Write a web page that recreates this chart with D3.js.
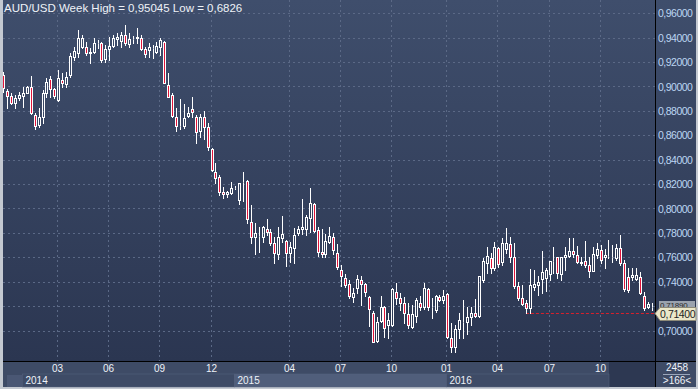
<!DOCTYPE html>
<html>
<head>
<meta charset="utf-8">
<script src="https://cdn.jsdelivr.net/npm/d3@7/dist/d3.min.js"></script>
<style>
body { margin: 0; background: #c4c9d1; }
svg { display: block; font-family: "Liberation Sans", Arial, sans-serif; }
</style>
</head>
<body>
<svg id="chart" width="698" height="389"></svg>
<script>
// weekly AUD/USD candles, oldest first
var opens = [.9094,.8965,.8922,.8864,.8905,.8922,.8949,.8996,.8766,.8684,.8752,.8949,.9061,.8979,.8889,.9053,.9020,.9094,.9244,.9277,
  .9326,.9326,.9285,.9285,.9356,.9359,.9225,.9307,.9332,.9387,.9375,.9422,.9348,.9389,.9395,.9397,.9307,.9299,.9313,.9285,
  .9326,.9365,.9012,.8930,.8752,.8676,.8676,.8758,.8815,.8752,.8637,.8752,.8665,.8487,.8299,.8258,.8137,.8116,.8129,.8170,
  .8069,.8219,.8225,.7891,.7763,.7774,.7763,.7834,.7807,.7719,.7626,.7755,.7733,.7632,.7673,.7796,.7829,.7829,.7919,.8036,
  .7823,.7645,.7626,.7727,.7768,.7632,.7495,.7427,.7378,.7276,.7345,.7413,.7380,.7271,.7140,.6915,.7079,.7189,.7044,.7044,
  .7317,.7263,.7222,.7134,.7030,.7118,.7227,.7189,.7337,.7189,.7167,.7276,.7249,.7298,.6935,.6861,.7009,.7071,.7071,.7107,
  .7140,.7118,.7413,.7550,.7591,.7509,.7673,.7563,.7665,.7708,.7604,.7364,.7263,.7227,.7181,.7353,.7372,.7419,.7427,.7462,
  .7569,.7599,.7462,.7599,.7610,.7653,.7618,.7550,.7571,.7536,.7489,.7618,.7659,.7599,.7610,.7604,.7591,.7673,.7550,.7435,
  .7440,.7419,.7435,.7282,.7189,.7189];
var highs = [.9119,.8979,.8947,.8930,.8955,.8998,.9006,.9086,.8782,.8823,.8971,.9069,.9088,.8987,.9135,.9108,.9121,.9272,.9326,.9463,
  .9422,.9367,.9313,.9395,.9381,.9367,.9340,.9408,.9422,.9441,.9449,.9504,.9436,.9414,.9477,.9422,.9326,.9359,.9340,.9367,
  .9395,.9375,.9113,.8944,.8821,.8895,.8856,.8829,.8911,.8766,.8774,.8801,.8703,.8493,.8370,.8274,.8178,.8145,.8214,.8184,
  .8211,.8301,.8233,.8028,.7878,.7850,.7856,.7911,.7829,.7768,.7845,.7938,.7741,.7727,.7837,.7856,.8075,.7946,.8165,.8047,
  .7845,.7829,.7790,.7845,.7801,.7708,.7536,.7462,.7413,.7345,.7454,.7446,.7391,.7282,.7161,.7112,.7282,.7200,.7140,.7345,
  .7386,.7304,.7271,.7227,.7208,.7263,.7282,.7391,.7345,.7263,.7290,.7290,.7331,.7309,.7058,.7044,.7140,.7249,.7194,.7189,
  .7255,.7446,.7591,.7686,.7632,.7725,.7681,.7755,.7837,.7763,.7714,.7399,.7372,.7249,.7501,.7495,.7446,.7653,.7509,.7571,
  .7681,.7604,.7604,.7686,.7755,.7755,.7692,.7604,.7735,.7604,.7686,.7714,.7700,.7665,.7741,.7700,.7708,.7782,.7577,.7509,
  .7509,.7509,.7481,.7317,.7235,.7222];
var lows = [.8955,.8823,.8856,.8823,.8889,.8834,.8944,.8774,.8651,.8670,.8700,.8911,.8916,.8905,.8881,.8998,.8998,.9080,.9217,.9244,
  .9313,.9258,.9195,.9272,.9313,.9203,.9203,.9217,.9326,.9340,.9326,.9340,.9326,.9354,.9354,.9299,.9244,.9244,.9231,.9272,
  .9258,.9026,.8911,.8747,.8637,.8649,.8657,.8752,.8752,.8539,.8588,.8567,.8479,.8309,.8211,.8110,.8083,.8096,.8118,.8159,
  .8036,.8063,.7878,.7719,.7626,.7645,.7727,.7782,.7700,.7555,.7583,.7727,.7528,.7563,.7550,.7782,.7790,.7782,.7809,.7809,
  .7610,.7599,.7604,.7714,.7626,.7501,.7364,.7353,.7263,.7235,.7309,.7208,.7282,.7036,.6907,.6907,.7071,.6943,.6935,.7036,
  .7216,.7167,.7063,.7017,.7017,.7071,.7167,.7173,.7167,.7099,.7153,.7243,.7227,.6940,.6825,.6825,.6935,.6935,.6970,.7044,
  .7112,.7112,.7399,.7468,.7468,.7495,.7517,.7536,.7632,.7563,.7345,.7249,.7208,.7145,.7145,.7331,.7290,.7304,.7325,.7413,
  .7468,.7427,.7413,.7495,.7604,.7604,.7555,.7536,.7522,.7440,.7489,.7591,.7550,.7509,.7591,.7563,.7577,.7536,.7325,.7317,
  .7413,.7413,.7298,.7167,.7181,.7167];
var closes = [.8988,.8922,.8867,.8905,.8930,.8949,.8998,.8782,.8676,.8752,.8949,.9037,.8979,.8922,.9069,.9028,.9078,.9250,.9293,.9397,
  .9397,.9277,.9272,.9359,.9356,.9217,.9307,.9332,.9397,.9408,.9422,.9359,.9389,.9389,.9408,.9307,.9266,.9326,.9313,.9332,
  .9381,.9031,.8916,.8758,.8676,.8676,.8741,.8785,.8793,.8629,.8752,.8665,.8501,.8315,.8249,.8135,.8116,.8135,.8167,.8170,
  .8208,.8219,.7911,.7763,.7798,.7774,.7848,.7809,.7719,.7637,.7768,.7790,.7632,.7681,.7782,.7829,.7850,.7927,.8042,.7817,
  .7645,.7626,.7735,.7774,.7659,.7517,.7446,.7372,.7282,.7304,.7419,.7380,.7317,.7173,.6907,.7071,.7194,.7017,.7085,.7337,
  .7263,.7222,.7140,.7044,.7134,.7249,.7194,.7345,.7194,.7189,.7282,.7249,.7282,.6948,.6866,.7009,.7085,.7071,.7107,.7145,
  .7120,.7446,.7571,.7610,.7509,.7681,.7544,.7719,.7714,.7604,.7364,.7263,.7216,.7181,.7372,.7380,.7399,.7481,.7495,.7569,
  .7569,.7468,.7599,.7618,.7653,.7624,.7563,.7563,.7536,.7489,.7626,.7665,.7577,.7618,.7610,.7604,.7673,.7550,.7337,.7331,
  .7454,.7454,.7304,.7181,.7216,.7189];

var priceTicks = [0.70, 0.72, 0.74, 0.76, 0.78, 0.80, 0.82, 0.84, 0.86, 0.88, 0.90, 0.92, 0.94, 0.96];
// bar index where each label sits
var monthTicks = [14, 27, 40, 53, 73, 86, 99, 113, 126, 139, 152];
var monthLabels = ['03', '06', '09', '12', '04', '07', '10', '01', '04', '07', '10'];
var yearTicks = [5, 59, 113];
var yearLabels = ['2014', '2015', '2016'];
var bidPrice = 0.714;
var bidFrom = 133;
var title = 'AUD/USD Week High = 0,95045 Low = 0,6826';
var barCount = '2458';
var visibleBars = '>166<';

var W = 698, H = 389;
var plotL = 3, plotR = 655, plotT = 0, plotB = 361;
var axisB = 387;

var svg = d3.select('#chart');
var defs = svg.append('defs');

var grad = defs.append('linearGradient').attr('id', 'bg').attr('x1', 0).attr('y1', 0).attr('x2', 0).attr('y2', 1);
grad.append('stop').attr('offset', '0%').attr('stop-color', '#3f4e6c');
grad.append('stop').attr('offset', '100%').attr('stop-color', '#2b3651');

defs.append('clipPath').attr('id', 'plotclip')
  .append('rect').attr('x', plotL).attr('y', plotT).attr('width', plotR - plotL).attr('height', plotB - plotT);

// frame
svg.append('rect').attr('width', W).attr('height', H).attr('fill', '#c4c9d1');
svg.append('rect').attr('x', plotL).attr('y', 0).attr('width', W - plotL - 2).attr('height', plotB)
  .attr('fill', 'url(#bg)');

var x = d3.scaleLinear().domain([0, closes.length - 1]).range([3.2, 651.7]);
var y = d3.scaleLinear().domain([0.70, 0.96]).range([330.5, 13.3]);

var fmt = function(v) { return d3.format('.5f')(v).replace('.', ','); };

// grid
var grid = svg.append('g');
grid.selectAll('line.h').data(priceTicks).enter().append('line')
  .attr('x1', plotL).attr('x2', plotR)
  .attr('y1', function(d) { return Math.round(y(d)) + 0.5; })
  .attr('y2', function(d) { return Math.round(y(d)) + 0.5; })
  .attr('stroke', '#5b6986').attr('stroke-dasharray', '2,3');
grid.selectAll('line.v').data(monthTicks).enter().append('line')
  .attr('x1', function(d) { return Math.round(x(d)) - 0.5; })
  .attr('x2', function(d) { return Math.round(x(d)) - 0.5; })
  .attr('y1', plotT).attr('y2', plotB)
  .attr('stroke', '#5b6986').attr('stroke-dasharray', '2,3');

// bid line
svg.append('line')
  .attr('x1', x(bidFrom)).attr('x2', plotR)
  .attr('y1', Math.round(y(bidPrice)) + 0.5).attr('y2', Math.round(y(bidPrice)) + 0.5)
  .attr('stroke', '#d8202c').attr('stroke-dasharray', '3,2');

// candles
var bars = d3.range(closes.length).map(function(i) {
  return { i: i, o: opens[i], h: highs[i], l: lows[i], c: closes[i] };
});
var cg = svg.append('g').attr('clip-path', 'url(#plotclip)');
var candle = cg.selectAll('g').data(bars).enter().append('g');
function cx(d) { return Math.round(x(d.i)); }
function yTop(d) { return Math.round(y(Math.max(d.o, d.c))) + 0.5; }
function yBot(d) { return Math.round(y(Math.min(d.o, d.c))) + 0.5; }
candle.append('line')
  .attr('x1', function(d) { return cx(d) + 0.5; }).attr('x2', function(d) { return cx(d) + 0.5; })
  .attr('y1', function(d) { return Math.round(y(d.h)); }).attr('y2', yTop)
  .attr('stroke', '#ffffff');
candle.append('line')
  .attr('x1', function(d) { return cx(d) + 0.5; }).attr('x2', function(d) { return cx(d) + 0.5; })
  .attr('y1', yBot).attr('y2', function(d) { return Math.round(y(d.l)) + 1; })
  .attr('stroke', '#ffffff');
candle.append('rect')
  .attr('x', function(d) { return cx(d) - 0.5; })
  .attr('width', 2)
  .attr('y', yTop)
  .attr('height', function(d) { return yBot(d) - yTop(d); })
  .attr('fill', function(d) { return d.c < d.o ? '#e0143a' : 'none'; })
  .attr('stroke', '#ffffff');

// title
svg.append('text').attr('x', 4).attr('y', 12).attr('fill', '#eef2f8')
  .attr('font-size', 11.5).text(title);

// right price axis (labels under the price tags are hidden, as in the terminal)
var lastClose = closes[closes.length - 1];
var lastY = Math.round(y(lastClose));
var bidY = Math.round(y(bidPrice)) + 0.5;
svg.append('line').attr('x1', plotR + 0.5).attr('x2', plotR + 0.5).attr('y1', 0).attr('y2', axisB)
  .attr('stroke', '#000');
svg.append('g').selectAll('text')
  .data(priceTicks.filter(function(d) { return Math.abs(y(d) - lastY) > 9 && Math.abs(y(d) - bidY) > 9; }))
  .enter().append('text')
  .attr('x', 658).attr('y', function(d) { return y(d) + 4; })
  .attr('fill', '#bcd6f2').attr('font-size', 10.5).attr('letter-spacing', -0.5)
  .text(fmt);

// last close tag (mostly hidden) and bid tag
svg.append('rect').attr('x', 659).attr('y', lastY - 6).attr('width', 36).attr('height', 10)
  .attr('fill', '#9aa2ae');
svg.append('text').attr('x', 660).attr('y', lastY + 0.5).attr('fill', '#2a2a2a')
  .attr('font-size', 8).attr('letter-spacing', -0.2)
  .text(fmt(lastClose));
svg.append('path')
  .attr('d', 'M655,' + bidY + 'L660,' + (bidY - 6) + 'L696,' + (bidY - 6) + 'L696,' + (bidY + 7) + 'L660,' + (bidY + 7) + 'Z')
  .attr('fill', '#ebe7c9').attr('stroke', '#8d8a78');
svg.append('text').attr('x', 660).attr('y', bidY + 4.5).attr('fill', '#1e1e1e')
  .attr('font-size', 10.5).attr('letter-spacing', -0.4)
  .text(fmt(bidPrice));

// time axis
svg.append('rect').attr('x', plotL).attr('y', plotB).attr('width', plotR - plotL).attr('height', axisB - plotB)
  .attr('fill', '#3e4b66');
svg.append('rect').attr('x', 609).attr('y', plotB).attr('width', plotR - 609).attr('height', axisB - plotB)
  .attr('fill', '#2d3852');
svg.append('rect').attr('x', 7).attr('y', 375).attr('width', 15).attr('height', 12).attr('fill', '#4a5774');
var yearEdges = yearTicks.map(function(d) { return Math.round(x(d)) - 0.5; }).concat([609]);
svg.append('g').selectAll('rect').data(yearLabels).enter().append('rect')
  .attr('x', function(d, k) { return yearEdges[k]; })
  .attr('y', 374)
  .attr('width', function(d, k) { return yearEdges[k + 1] - yearEdges[k]; })
  .attr('height', axisB - 374)
  .attr('fill', function(d, k) { return k % 2 ? '#505e7b' : '#3e4b66'; })
  .attr('stroke', '#56637f').attr('stroke-width', 0.5);
svg.append('g').selectAll('text').data(yearLabels).enter().append('text')
  .attr('x', function(d, k) { return yearEdges[k] + 3; })
  .attr('y', 384).attr('fill', '#eef2f8').attr('font-size', 10)
  .text(function(d) { return d; });
svg.append('g').selectAll('text').data(monthTicks).enter().append('text')
  .attr('x', function(d) { return Math.round(x(d)) - 0.5; })
  .attr('y', 372).attr('text-anchor', 'middle').attr('fill', '#eef2f8').attr('font-size', 10)
  .text(function(d, k) { return monthLabels[k]; });
svg.append('line').attr('x1', plotL).attr('x2', W - 2).attr('y1', plotB + 0.5).attr('y2', plotB + 0.5)
  .attr('stroke', '#000');

// bottom-right counter box
svg.append('rect').attr('x', plotR + 1).attr('y', plotB + 1).attr('width', W - plotR - 3).attr('height', axisB - plotB - 1)
  .attr('fill', '#3e4b66');
svg.append('text').attr('x', 677).attr('y', 371).attr('text-anchor', 'middle').attr('fill', '#eef2f8')
  .attr('font-size', 10).text(barCount);
svg.append('line').attr('x1', 663).attr('x2', 690).attr('y1', 374.5).attr('y2', 374.5).attr('stroke', '#9aa6bb');
svg.append('text').attr('x', 677).attr('y', 384).attr('text-anchor', 'middle').attr('fill', '#eef2f8')
  .attr('font-size', 10).text(visibleBars);
</script>
</body>
</html>
